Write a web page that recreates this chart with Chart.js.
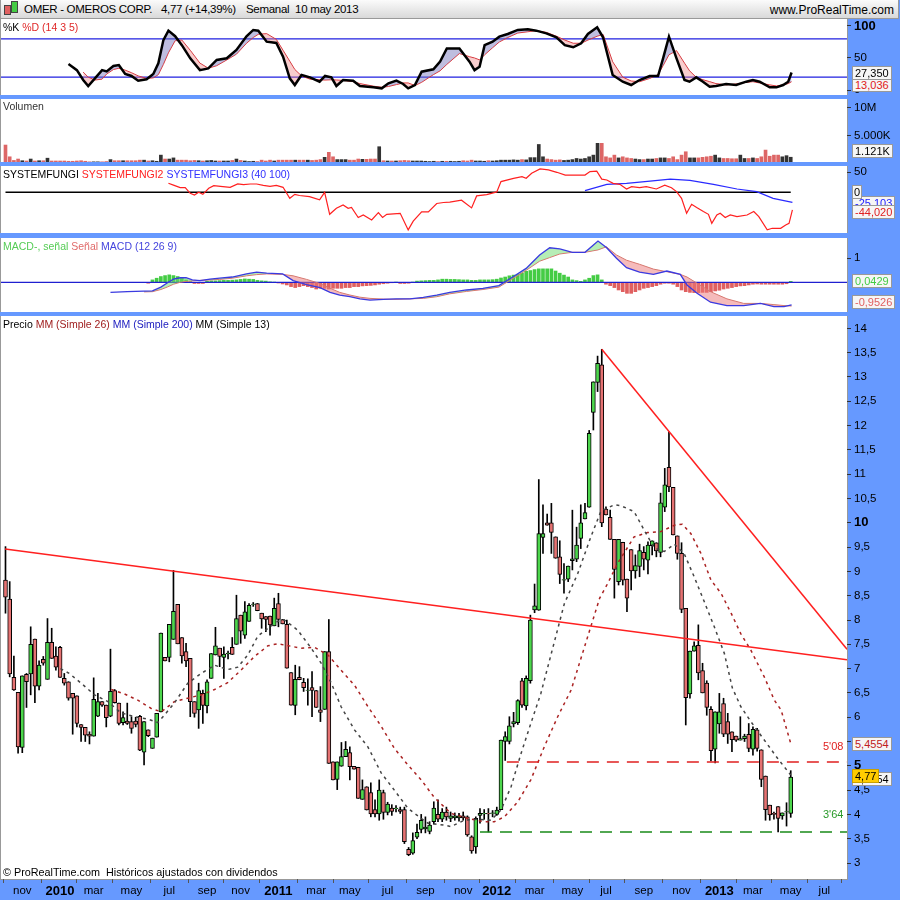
<!DOCTYPE html>
<html lang="es">
<head>
<meta charset="utf-8">
<title>OMER - OMEROS CORP.</title>
<script src="https://cdn.jsdelivr.net/npm/chart.js@4.4.1/dist/chart.umd.min.js"></script>
<style>
  html, body { margin: 0; padding: 0; }
  body { width: 900px; height: 900px; background: #6699ff; position: relative; overflow: hidden;
         font-family: Arial, "Liberation Sans", sans-serif; }
  canvas { position: absolute; left: 0; }
  #cab { position: absolute; left: 0; top: 0; width: 897px; height: 18px; border: 1px solid #999; border-top: none;
         background: linear-gradient(#fbfbfb, #d9d9d9); font-size: 11.5px; letter-spacing: -0.3px; z-index: 2; }
  #cab span { position: absolute; top: 3px; white-space: nowrap; }
  .tit { position: absolute; left: 3px; font-size: 10.5px; white-space: nowrap; z-index: 2; }
  .caja { position: absolute; left: 852px; font-size: 11px; line-height: 12px; border: 1px solid #999;
          background: #f6f6f6; padding: 0 2px; white-space: nowrap; z-index: 3; }
  .nota { position: absolute; font-size: 11px; white-space: nowrap; z-index: 2; }
</style>
</head>
<body>

<div id="cab">
  <span style="left:3px;top:5px;width:5px;height:8px;background:#e06060;border:1px solid #444"></span>
  <span style="left:10px;top:1px;width:5px;height:10px;background:#44cc44;border:1px solid #444"></span>
  <span style="left:23px">OMER - OMEROS CORP.</span>
  <span style="left:160px">4,77 (+14,39%)</span>
  <span style="left:245px">Semanal&nbsp; 10 may 2013</span>
  <span style="right:4px;font-size:12px;letter-spacing:0">www.ProRealTime.com</span>
</div>

<canvas id="cStoch" width="900" height="76" style="top:19px"></canvas>
<canvas id="cVol" width="900" height="63" style="top:99px"></canvas>
<canvas id="cSf" width="900" height="67" style="top:166px"></canvas>
<canvas id="cMacd" width="900" height="74" style="top:238px"></canvas>
<canvas id="cPrecio" width="900" height="584" style="top:316px"></canvas>

<div class="tit" style="top:21px"><span>%K</span> <span style="color:#e02828">%D (14 3 5)</span></div>
<div class="tit" style="top:100px;color:#333">Volumen</div>
<div class="tit" style="top:168px"><span>SYSTEMFUNGI</span> <span style="color:#ff2020">SYSTEMFUNGI2</span> <span style="color:#3030ff">SYSTEMFUNGI3 (40 100)</span></div>
<div class="tit" style="top:240px"><span style="color:#55cc55">MACD-, señal</span> <span style="color:#e06a6a">Señal</span> <span style="color:#4444dd">MACD (12 26 9)</span></div>
<div class="tit" style="top:318px"><span>Precio</span> <span style="color:#a02020">MM (Simple 26)</span> <span style="color:#2020c0">MM (Simple 200)</span> <span>MM (Simple 13)</span></div>
<div class="nota" style="left:3px;top:866px;font-size:10.8px">© ProRealTime.com&nbsp; Históricos ajustados con dividendos</div>
<div class="nota" style="left:823px;top:740px;color:#e02020">5'08</div>
<div class="nota" style="left:823px;top:808px;color:#2a9a2a">3'64</div>

<!-- cajas de ultimo valor -->
<div class="caja" style="top:78px;color:#e02020">13,036</div>
<div class="caja" style="top:66px">27,350</div>
<div class="caja" style="top:144px">1.121K</div>
<div class="caja" style="top:196px;color:#2020ff">-25,103</div>
<div class="caja" style="top:185px;padding:0 1px">0</div>
<div class="caja" style="top:205px;color:#e02020">-44,020</div>
<div class="caja" style="top:274px;color:#44cc44">0,0429</div>
<div class="caja" style="top:295px;color:#e06060">-0,9526</div>
<div class="caja" style="top:737px;color:#c02020">5,4554</div>
<div class="caja" style="top:772px">4,8154</div>
<div class="caja" style="top:769px;background:#ffcc00;border-color:#c9a000">4,77</div>

<script>
// semanas: indice 0 = semana del 9 oct 2009, 187 = 10 may 2013
const X_MIN = -1.07;
const X_MAX = 200.4;

// velas semanales
const opens = [
  8.82,8.43,6.82,6.51,5.38,6.88,6.89,7.61,6.64,7.19,
  6.78,7.54,7.26,7.44,6.80,6.73,6.49,6.44,5.85,5.79,
  5.65,5.61,6.02,6.32,6.25,6.02,6.55,6.29,5.89,5.92,
  5.91,5.92,6.02,5.28,5.74,5.36,5.59,6.11,7.23,7.23,
  7.60,8.32,7.64,7.35,7.21,6.32,6.15,6.49,6.23,6.80,
  7.28,7.42,7.23,7.30,7.44,7.50,8.10,7.69,7.97,8.32,
  8.34,8.14,8.07,8.08,7.88,8.34,8.01,7.91,6.92,6.24,
  6.82,6.72,6.55,6.61,6.55,6.15,6.16,7.35,5.08,4.72,
  4.99,5.19,5.27,4.99,4.97,4.31,4.57,4.45,4.10,4.01,
  4.45,4.04,4.13,4.12,4.10,4.10,3.28,3.20,3.53,3.69,
  3.70,3.65,3.85,4.00,3.90,4.05,3.92,3.93,3.93,3.97,
  3.95,3.54,3.33,3.98,4.01,4.02,4.02,4.00,4.10,5.50,
  5.50,5.86,5.89,6.75,6.23,6.75,8.21,8.20,9.70,10.00,
  10.00,9.71,9.30,8.82,8.84,9.22,9.25,9.68,10.08,10.32,
  12.27,12.89,13.25,10.28,10.11,9.66,8.79,9.60,8.84,9.45,
  9.01,9.10,9.39,9.23,9.53,9.59,9.39,10.32,11.14,10.73,
  9.73,9.37,8.24,6.48,7.36,7.48,6.96,6.70,6.16,5.34,
  5.86,6.28,5.91,5.70,5.61,5.53,5.56,5.65,5.34,5.74,
  5.33,4.79,4.19,4.02,4.16,3.97,4.05,4.02
];
const highs = [
  9.51,8.79,7.26,6.51,6.85,6.90,7.86,7.61,7.16,7.25,
  8.03,7.83,7.45,7.46,6.90,6.73,6.49,6.44,5.85,5.79,
  5.70,6.81,6.49,6.32,6.25,7.40,6.57,6.29,6.11,6.29,
  6.01,6.00,6.04,5.91,5.74,5.57,6.08,7.73,7.23,7.91,
  9.02,8.32,7.64,7.52,7.21,6.32,6.70,6.56,6.77,7.31,
  7.85,7.42,7.45,7.36,7.64,8.51,8.10,8.38,8.34,8.36,
  8.34,8.14,8.07,8.08,8.45,8.55,8.01,8.00,6.92,7.07,
  7.04,6.80,6.79,6.94,6.55,6.63,7.35,8.01,5.08,5.08,
  5.48,5.50,5.39,4.99,4.97,4.71,4.57,4.65,4.30,4.71,
  4.50,4.25,4.20,4.18,4.15,4.15,3.32,3.62,3.80,4.00,
  3.95,3.85,4.26,4.30,4.12,4.15,4.05,4.03,4.02,4.05,
  3.97,3.56,3.95,4.12,4.10,4.12,4.08,4.15,5.53,5.70,
  6.01,6.10,6.36,6.80,6.85,8.10,8.74,10.89,10.37,10.18,
  10.40,9.71,9.63,9.16,9.11,10.26,9.91,10.37,10.40,11.90,
  12.90,13.43,13.57,10.33,10.26,9.66,9.66,9.60,8.84,9.45,
  9.34,9.56,9.51,9.61,9.63,9.59,10.61,11.12,11.87,10.73,
  9.73,9.59,8.24,7.36,7.55,7.90,7.11,6.75,6.22,6.11,
  6.49,6.39,6.08,5.70,5.61,6.01,5.65,5.87,5.80,5.77,
  5.33,4.79,4.19,4.05,4.16,4.03,4.24,4.90
];
const lows = [
  8.14,6.83,6.55,5.26,5.27,6.20,6.46,6.30,6.56,7.07,
  6.78,7.21,6.97,6.82,6.66,6.35,5.65,5.80,5.50,5.50,
  5.45,5.61,6.01,6.22,5.80,6.01,6.29,5.84,5.84,5.85,
  5.67,5.80,5.31,5.02,5.60,5.36,5.59,6.11,7.16,7.14,
  7.60,7.51,7.11,7.04,6.01,6.00,5.77,5.87,6.09,6.80,
  7.28,7.04,6.80,7.20,7.29,7.50,7.52,7.62,7.97,8.28,
  8.19,7.83,7.76,7.69,7.88,7.86,7.92,7.01,6.25,6.05,
  6.77,6.53,6.25,6.01,6.20,5.91,6.16,5.05,4.71,4.51,
  4.99,5.19,4.71,4.93,4.33,4.31,4.09,3.95,3.95,3.88,
  3.90,3.99,3.98,4.05,4.02,3.40,3.15,3.18,3.50,3.62,
  3.62,3.60,3.80,3.85,3.85,3.88,3.85,3.88,3.86,3.88,
  3.55,3.20,3.20,3.82,3.90,3.64,3.95,3.98,4.10,5.11,
  5.45,5.80,5.85,6.20,6.15,6.70,8.15,8.20,9.37,9.95,
  9.37,9.27,8.75,8.55,8.79,9.03,9.20,9.47,10.08,10.32,
  11.91,12.70,9.92,10.16,9.66,8.45,8.72,8.72,8.17,8.62,
  8.86,8.89,9.03,8.95,9.34,9.30,9.30,10.23,10.64,9.75,
  9.25,8.15,5.84,6.39,7.36,6.77,6.50,6.04,5.10,5.06,
  5.67,5.60,5.46,5.29,5.50,5.53,5.50,5.29,5.22,5.30,
  4.57,3.88,3.88,3.90,3.64,3.90,3.76,3.94
];
const closes = [
  8.47,6.89,6.56,5.39,6.85,6.73,7.50,6.64,7.07,7.11,
  7.54,7.21,7.03,6.82,6.70,6.39,6.39,5.87,5.79,5.63,
  5.61,6.37,6.32,6.25,5.99,6.53,6.30,5.87,5.99,5.87,
  5.77,5.85,5.32,5.91,5.62,5.57,6.08,7.73,7.16,7.91,
  8.18,7.51,7.26,7.16,6.32,6.08,6.55,6.24,6.73,7.31,
  7.47,7.25,7.30,7.32,7.29,8.03,7.77,8.17,8.30,8.33,
  8.19,8.02,8.01,7.90,8.24,8.01,7.92,7.01,6.25,6.78,
  6.77,6.61,6.56,6.55,6.20,6.10,7.35,5.05,4.71,5.08,
  5.19,5.34,4.98,4.93,4.33,4.51,4.09,4.01,4.01,4.50,
  4.04,4.21,4.06,4.13,4.06,3.44,3.17,3.46,3.63,3.88,
  3.74,3.78,4.13,3.90,4.05,3.95,3.97,3.97,3.97,3.93,
  3.58,3.25,3.92,4.02,4.02,4.01,4.03,4.09,5.53,5.60,
  5.82,5.91,6.34,6.25,6.80,8.00,8.29,9.78,9.78,9.95,
  9.80,9.27,8.94,8.83,9.11,9.26,9.54,10.00,10.21,11.84,
  12.90,13.28,10.00,10.16,9.66,9.04,9.66,8.82,8.45,9.01,
  9.12,9.43,9.25,9.54,9.63,9.42,10.41,10.78,10.74,9.75,
  9.37,8.22,6.40,7.36,7.47,6.91,6.50,6.20,5.31,6.11,
  6.11,5.65,5.65,5.54,5.53,5.56,5.61,5.36,5.75,5.36,
  4.72,4.10,3.99,4.00,3.92,4.03,4.06,4.77
];

// volumen en millones
const volumen = [
  3.3,1.2,0.55,0.8,0.5,0.45,0.8,0.45,0.5,0.5,
  0.95,0.45,0.45,0.45,0.45,0.4,0.4,0.45,0.5,0.4,
  0.3,0.3,0.3,0.3,0.35,0.7,0.5,0.5,0.5,0.5,
  0.5,0.5,0.6,0.6,0.45,0.5,0.4,1.5,0.8,0.8,
  1.0,0.6,0.6,0.6,0.5,0.55,0.5,0.45,0.5,0.55,
  0.45,0.45,0.45,0.45,0.55,0.8,0.55,0.45,0.35,0.4,
  0.35,0.6,0.45,0.6,0.45,0.6,0.6,0.6,0.6,0.6,
  0.6,0.6,0.6,0.55,0.6,0.7,1.1,2.0,1.2,0.7,
  0.7,0.7,0.6,0.6,0.8,0.75,0.75,0.8,0.8,3.0,
  0.5,0.45,0.45,0.45,0.5,0.55,0.5,0.45,0.45,0.45,
  0.4,0.35,0.4,0.35,0.4,0.4,0.4,0.35,0.4,0.5,
  0.45,0.6,0.45,0.45,0.4,0.5,0.45,0.5,0.6,0.6,
  0.6,0.65,0.6,0.7,0.65,1.05,1.05,3.4,1.2,0.8,
  0.7,0.6,0.65,0.55,0.6,0.7,0.9,0.8,0.9,1.2,
  1.5,3.6,3.6,1.2,1.0,1.5,1.0,1.2,1.0,0.9,
  0.8,0.7,0.7,0.8,0.8,0.9,1.0,1.0,0.9,1.2,
  0.7,1.5,2.1,1.0,1.0,1.0,1.1,1.2,1.3,1.5,
  1.0,0.9,0.9,0.85,0.85,1.5,0.9,0.9,1.0,0.9,
  1.2,2.4,1.3,1.5,1.5,1.2,1.4,1.12
];

// medias moviles (indice de semana, valor)
const mm13Idx = [13.1,15.2,18,21.2,24.4,27.5,30.7,33.9,36.3,37.9,40.2,43.4,46.6,49.8,52.9,55.3,57.7,60.1,62.5,64.8,66.4,67.2,69.6,72.8,75.2,77.6,79.9,83.1,86.3,89.5,92.6,95.8,97.4,100.6,104.5,106.1,109.3,112.4,115.6,118,120.4,122.8,125.1,127.5,133.1,136.3,139.4,141.8,145,146.6,149.7,152.1,154.5,156.9,159.3,161.6,164,166.4,168.8,171.2,173.1,175.1,177.5,180.7,183.9,187];
const mm13Val = [7.0,6.9,6.7,6.46,6.32,6.09,6.01,5.96,5.89,6.05,6.29,6.7,6.9,7.07,6.98,7.03,7.28,7.67,7.83,7.97,8.0,7.95,7.79,7.42,7.11,6.7,6.22,5.74,5.39,4.85,4.5,4.13,4.02,3.82,3.78,3.75,3.88,3.9,3.88,4.09,4.57,5.26,5.87,6.49,8.34,8.96,9.71,10.24,10.37,10.35,10.23,9.85,9.48,9.41,9.56,9.37,8.89,8.38,7.86,7.31,6.6,6.22,5.91,5.53,5.15,4.81];
const mm26Idx = [25.2,28.3,31.5,34.7,37.1,40.2,43.4,46.6,49.8,52.9,56.1,59.3,62.5,64.8,68,70.4,73.6,76.8,79.9,83.1,86.3,89.5,92.6,95.8,99,102.1,106.1,110,114,116.4,118.8,122,125.1,128.3,131.5,134.7,141.5,143.4,145.8,149.7,152.9,156.1,159.3,161.2,163.2,165.6,168,170.4,172.8,175.1,177.5,180.7,183.1,184.7,187];
const mm26Val = [6.57,6.48,6.35,6.18,6.11,6.32,6.39,6.46,6.57,6.71,6.97,7.25,7.47,7.51,7.46,7.42,7.44,7.28,6.97,6.66,6.22,5.81,5.36,5.02,4.71,4.35,4.02,3.92,3.85,3.85,3.95,4.26,4.71,5.39,6.01,6.56,8.45,8.75,9.17,9.71,9.8,9.82,9.95,9.97,9.78,9.37,8.82,8.55,8.14,7.72,7.38,6.83,6.35,6.15,5.46];

// lineas dibujadas (inicio y fin)
const tendencia1 = [[-0.1, 9.46], [200.4, 7.18]];
const tendencia2 = [[142, 13.57], [200.4, 7.40]];
const resistencia = [[119.4, 5.08], [200.4, 5.08]];
const soporte = [[113, 3.64], [200.4, 3.64]];

// estocastico
const stochX = [15,17,18.5,19.7,21.3,23,24.1,25.7,27,28.5,30,31.6,33.6,35.2,36.4,37.6,38.8,40.4,42,44,46.3,48.3,50.3,52.7,55,57.4,59,60.2,62.2,64.5,66.1,67.7,68.9,70.5,72.5,74.8,76.1,77.6,78.8,80.4,82.8,84.4,87.6,89.6,91.2,93.1,94.7,95.9,97.5,99.1,101.9,103.5,105.1,108.1,110.5,111.7,112.9,114.1,116,117.6,119.6,122,124.4,126.4,128.8,131.2,133.2,135.2,137.1,138.7,140.9,142.3,144.6,147,149,151,153.4,155.4,156.6,158,159.8,161.7,162.9,164.5,166.1,167.7,169.2,171.6,174,176.4,178,179.6,182,183.6,185.2,186.4,187.2];
const stochK = [40.6,31,15.6,6.3,18.2,31,29,37.5,39,25,21.9,14.6,16.7,25,41.7,78,92.7,84,70,49.5,31,33.8,47,49.5,62.5,84,93.8,92.7,75.5,73.4,52,18.2,7.8,23.4,19.8,13,21.9,19.8,6.3,15.6,14.6,6.3,4.2,2.6,10.4,14.6,9.4,2.6,7.8,28.6,32.3,44.3,65,65,44.3,31,36.2,70,75.5,83.3,87.5,93.8,94.8,92.7,88.5,82.3,70,66.7,72.9,87.5,98,82.3,23.4,13,7.8,15.6,21.9,21.9,49.5,83.3,49.5,15.6,13,19.8,13,5.2,6.3,9.4,7.8,13,15.6,13,4.2,4.2,7.8,13,27.4];
const stochD = [null,null,28,20,15.6,17,25,32,34,31,27,22,18,19,24,40,58,77,78,62,42,34,38,47,56,73,82,87,88,79,62,45,32,22,17,16,15.6,16,15.6,15,13,10,6,4.2,5.5,8.5,11,11,7,12,24,30,40,57,52,50,47,55,66,75,82,89,91,92.7,90,84,78,73,73,78,84,87,44,20,14,13,18,24,38,55,61.5,42,30,19.8,16,13,10,8,9.4,12,13,11,8,6.3,8,10,13];

// SYSTEMFUNGI
const sf2Idx = [38.8,40,41.6,42.8,44,45,46,47,48.4,49.6,51.2,53.5,55.3,56.7,58.3,59.8,61.4,63,64.5,66.1,67.7,68.9,70,72.4,74.8,76,77.2,78.8,80.4,81.6,82.4,84,85.2,87.2,88.8,89.8,90.8,94,95.9,97.1,99.1,100.7,102.7,104.3,105.8,108.6,111,112.2,114.6,117,118,121,123,124,125.3,127.3,129.3,131.3,133.3,135.3,138,139.2,140.8,142,143.2,144.7,146.3,147.9,149.1,151,152.6,155,157,158.6,159.8,161,162.2,163.4,164.6,166.2,167.4,168.2,169.4,170.2,171.4,172.6,174.2,176.6,178.2,179.4,181.4,182.6,184.6,185.8,186.6,187.4];
const sf2Val = [22.5,18,11.6,11.6,-2.5,-6.7,0,-5,10,16.7,15,12.5,20.8,19,20.8,20.8,17.5,15,17.5,12.5,-15,-5,-8,-10.8,-19,0,-55,-40,-31.7,-40,-38,-63,-56.7,-69,-51,-63,-55,-52.5,-94,-72,-48.8,-48.8,-28,-25.5,-24.5,-19.7,-38.9,-9,-5.8,1,26.7,35,39,35,47.5,58.5,56,50,43,43,43,51.7,53,33,30.8,22.5,20,8.3,14,11.6,14,8.3,18,11.6,1.7,-15,-52.5,-30,-38,-48,-55,-77.5,-56.7,-52.5,-63,-56.7,-60.8,-56.7,-48,-60.8,-94,-90,-90,-81.7,-77.5,-44];
const sf3Idx = [138,143.2,147.9,153.5,158.3,163,168.6,174.2,178.9,182.8,187.4];
const sf3Val = [4.2,20,22.5,28,33,30,20,8.3,1.7,-15,-25];

// MACD
const macdX = [25,29,33,35,37,38.5,40,41.6,43,44.5,46.3,48.7,51,54,57.4,59.8,62.2,66,68.5,71.7,74.9,77.3,79.6,82,84.4,86.8,90,93,96.3,99.5,102.7,105.8,109.8,113.7,117.5,120.5,124,127.2,129.6,132,135,138,141.1,143.1,145.5,147.9,151,154.3,157.5,160.7,162.3,164.7,167.9,171.8,175.8,179.8,183,185.4,187.2];
const macdLinea = [-0.42,-0.39,-0.37,-0.36,-0.2,-0.03,0.13,0.19,0.19,0.1,0.07,0.13,0.17,0.22,0.35,0.42,0.38,0.35,0.07,-0.1,-0.22,-0.42,-0.53,-0.6,-0.69,-0.74,-0.71,-0.69,-0.69,-0.63,-0.53,-0.42,-0.32,-0.25,-0.14,0.19,0.58,1.14,1.44,1.39,1.25,1.25,1.72,1.45,1.0,0.61,0.42,0.33,0.47,0.33,-0.11,-0.46,-0.83,-0.97,-0.97,-0.88,-1.01,-1.01,-0.94];
const macdSenal = [null,null,-0.4,-0.39,-0.3,-0.2,-0.08,0,0.04,0.06,0.08,0.1,0.12,0.17,0.27,0.32,0.35,0.33,0.27,0.12,-0.05,-0.25,-0.42,-0.53,-0.62,-0.67,-0.7,-0.71,-0.69,-0.67,-0.6,-0.48,-0.38,-0.3,-0.2,0.12,0.5,0.88,1.03,1.18,1.25,1.25,1.35,1.48,1.14,0.92,0.75,0.55,0.44,0.33,0.22,-0.04,-0.39,-0.69,-0.88,-0.88,-0.93,-0.97,-0.99];
const macdHist = [
  null,null,null,null,null,null,null,null,null,null,
  null,null,null,null,null,null,null,null,null,null,
  null,null,null,null,null,null,null,null,null,null,
  null,null,null,null,
  -0.04,0.1,0.17,0.24,0.28,0.31,0.28,0.24,0.19,0.1,
  0.03,-0.05,-0.05,-0.05,0.05,0.06,0.06,0.07,0.08,0.08,
  0.09,0.1,0.12,0.14,0.13,0.12,0.08,0.06,0.05,0.02,
  0.01,-0.03,-0.07,-0.11,-0.18,-0.22,-0.18,-0.14,-0.18,-0.22,
  -0.28,-0.25,-0.25,-0.28,-0.25,-0.25,-0.25,-0.22,-0.22,-0.18,
  -0.18,-0.15,-0.14,-0.13,-0.11,-0.08,-0.06,-0.04,-0.02,0.01,
  -0.05,-0.05,-0.04,0.01,0.05,0.06,0.07,0.08,0.08,0.1,
  0.13,0.13,0.12,0.12,0.11,0.1,0.1,0.08,0.08,0.1,
  0.1,0.1,0.11,0.13,0.18,0.22,0.27,0.3,0.33,0.38,
  0.46,0.49,0.53,0.56,0.56,0.56,0.56,0.47,0.38,0.3,
  0.22,0.1,0.07,0.04,0.1,0.17,0.28,0.31,0.1,-0.08,
  -0.14,-0.22,-0.32,-0.39,-0.46,-0.46,-0.39,-0.32,-0.25,-0.22,
  -0.18,-0.14,-0.08,-0.04,-0.04,-0.08,-0.18,-0.32,-0.39,-0.42,
  -0.43,-0.43,-0.42,-0.42,-0.39,-0.36,-0.33,-0.28,-0.25,-0.22,
  -0.18,-0.15,-0.14,-0.11,-0.08,-0.07,-0.08,-0.08,-0.08,-0.08,
  -0.08,-0.08,-0.06,0.04
];

// eje de tiempo
const mesIdx = [4,13,21,30,39,48,56,65,74,82,91,100,109,117,126,135,143,152,161,170,178,187,195];
const mesTxt = ['nov','2010','mar','may','jul','sep','nov','2011','mar','may','jul','sep','nov','2012','mar','may','jul','sep','nov','2013','mar','may','jul'];

// ticks de los ejes de la derecha
const precioTicks = [3,3.5,4,4.5,5,5.5,6,6.5,7,7.5,8,8.5,9,9.5,10,10.5,11,11.5,12,12.5,13,13.5,14];
const stochTicks = [0, 50, 100];
const volTicks = [5, 10];
const sfTicks = [50];
const macdTicks = [1];

// ---------------------------------------------------------------
Chart.defaults.font.family = 'Arial, "Liberation Sans", sans-serif';
Chart.defaults.color = '#000';
Chart.defaults.animation = false;
Chart.defaults.plugins.legend.display = false;
Chart.defaults.plugins.tooltip.enabled = false;

const VERDE = '#4cd64c';
const ROJO = '#e57272';

// fondo blanco y marco gris del area de cada panel
const fondoPanel = {
    id: 'fondoPanel',
    beforeDraw(chart) {
        const { ctx, chartArea: a } = chart;
        ctx.save();
        ctx.fillStyle = '#fff';
        ctx.fillRect(a.left, a.top, a.right - a.left, a.bottom - a.top);
        ctx.strokeStyle = '#999';
        ctx.lineWidth = 1;
        ctx.strokeRect(a.left - 0.5, a.top - 0.5, a.right - a.left + 1, a.bottom - a.top + 1);
        ctx.restore();
    }
};

function puntos(xs, ys) {
    return xs.map(function(x, i) { return { x: x, y: ys[i] }; });
}
function recta(par) {
    return par.map(function(p) { return { x: p[0], y: p[1] }; });
}

function ejeX(visible) {
    return {
        type: 'linear', min: X_MIN, max: X_MAX, display: visible, offset: false,
        afterFit: function(s) {
            if (visible) { s.height = 21; }
            s.paddingLeft = 0;
            s.paddingRight = 0;
        },
        afterBuildTicks: function(s) { s.ticks = mesIdx.map(function(v) { return { value: v }; }); },
        grid: { drawOnChartArea: false, tickLength: 4, color: '#555' },
        border: { display: false },
        ticks: {
            autoSkip: false, maxRotation: 0, padding: 1, color: '#000',
            callback: function(v, i) { return mesTxt[i]; },
            font: function(c) {
                const anio = /^\d+$/.test(mesTxt[c.index] || '');
                return anio ? { size: 13, weight: 'bold' } : { size: 11.5 };
            }
        }
    };
}

function ejeY(min, max, vals, formato, negritas) {
    return {
        position: 'right', min: min, max: max,
        afterFit: function(s) {
            s.width = 53;
            // sin reserva arriba/abajo para las etiquetas
            s.paddingTop = 0;
            s.paddingBottom = 0;
        },
        afterBuildTicks: function(s) { s.ticks = vals.map(function(v) { return { value: v }; }); },
        grid: { drawOnChartArea: false, tickLength: 4, color: '#333' },
        border: { display: false },
        ticks: {
            autoSkip: false, padding: 3, color: '#000',
            callback: function(v) { return formato(v); },
            font: function(c) {
                const b = c.tick && negritas.indexOf(c.tick.value) >= 0;
                return b ? { size: 13, weight: 'bold' } : { size: 11.5 };
            }
        }
    };
}

function panel(id, datasets, ejeVertical, conEjeX) {
    return new Chart(document.getElementById(id), {
        type: 'line',
        data: { datasets: datasets },
        options: {
            responsive: false,
            layout: { padding: { left: 1, right: 0, top: 0, bottom: 0 } },
            elements: { point: { radius: 0 }, line: { tension: 0 } },
            scales: { x: ejeX(conEjeX), y: ejeY.apply(null, ejeVertical) }
        },
        plugins: [fondoPanel]
    });
}

const coma = function(v) { return String(v).replace('.', ','); };
const semanas = closes.map(function(c, i) { return i; });
const sube = semanas.map(function(i) { return closes[i] >= opens[i]; });

// ① estocastico
panel('cStoch', [
    { data: puntos(stochX, stochK), borderColor: '#000', borderWidth: 2.5,
      fill: { target: 1, above: 'rgba(110,110,185,0.45)', below: 'rgba(238,130,130,0.4)' } },
    { data: puntos(stochX, stochD), borderColor: '#e03030', borderWidth: 1 },
    { data: recta([[X_MIN, 80], [X_MAX, 80]]), borderColor: '#2020e0', borderWidth: 1.2 },
    { data: recta([[X_MIN, 20], [X_MAX, 20]]), borderColor: '#2020e0', borderWidth: 1.2 }
], [-7.8, 110.9, stochTicks, function(v) { return String(v); }, [100]], false);

// ② volumen
panel('cVol', [
    { type: 'bar', data: puntos(semanas, volumen), barThickness: 3, grouped: false,
      backgroundColor: sube.map(function(s) { return s ? '#333333' : '#dd6666'; }) }
], [0.27, 11.52, volTicks, function(v) { return v === 10 ? '10M' : '5.000K'; }, []], false);

// ③ SYSTEMFUNGI
panel('cSf', [
    { data: puntos(sf2Idx, sf2Val), borderColor: '#ff2020', borderWidth: 1.2 },
    { data: puntos(sf3Idx, sf3Val), borderColor: '#2a2aff', borderWidth: 1.2 },
    { data: recta([[0, 0], [187, 0]]), borderColor: '#000', borderWidth: 1.5 }
], [-101.75, 65.75, sfTicks, function(v) { return String(v); }, []], false);

// ④ MACD
panel('cMacd', [
    { data: puntos(macdX, macdLinea), borderColor: '#3a3ae0', borderWidth: 1.3,
      fill: { target: 1, above: 'rgba(110,220,110,0.5)', below: 'rgba(235,120,120,0.5)' } },
    { data: puntos(macdX, macdSenal), borderColor: '#e07070', borderWidth: 1 },
    { data: recta([[X_MIN, 0], [X_MAX, 0]]), borderColor: '#2020d0', borderWidth: 1.2 },
    { type: 'bar', data: puntos(semanas, macdHist), barThickness: 3, grouped: false,
      backgroundColor: macdHist.map(function(v) { return v >= 0 ? '#44cc44' : '#e06060'; }) }
], [-1.2375, 1.846, macdTicks, coma, []], false);

// ⑤ precio con velas
panel('cPrecio', [
    { data: recta(tendencia1), borderColor: '#ff2020', borderWidth: 1.5 },
    { data: recta(tendencia2), borderColor: '#ff2020', borderWidth: 1.5 },
    { data: recta(resistencia), borderColor: '#e02020', borderWidth: 1.5, borderDash: [12, 8] },
    { data: recta(soporte), borderColor: '#1a8a1a', borderWidth: 1.5, borderDash: [12, 8] },
    { data: puntos(mm13Idx, mm13Val), borderColor: '#444', borderWidth: 1.5, borderDash: [3, 4] },
    { data: puntos(mm26Idx, mm26Val), borderColor: '#aa2222', borderWidth: 1.5, borderDash: [3, 4] },
    { type: 'bar', grouped: false, barThickness: 4, borderWidth: 1, borderColor: '#000', borderSkipped: false,
      data: semanas.map(function(i) { return { x: i, y: [opens[i], closes[i]] }; }),
      backgroundColor: sube.map(function(s) { return s ? VERDE : ROJO; }) },
    { type: 'bar', grouped: false, barThickness: 1, backgroundColor: '#000',
      data: semanas.map(function(i) { return { x: i, y: [lows[i], highs[i]] }; }) }
], [2.671, 14.255, precioTicks, coma, [5, 10]], true);
</script>
</body>
</html>
